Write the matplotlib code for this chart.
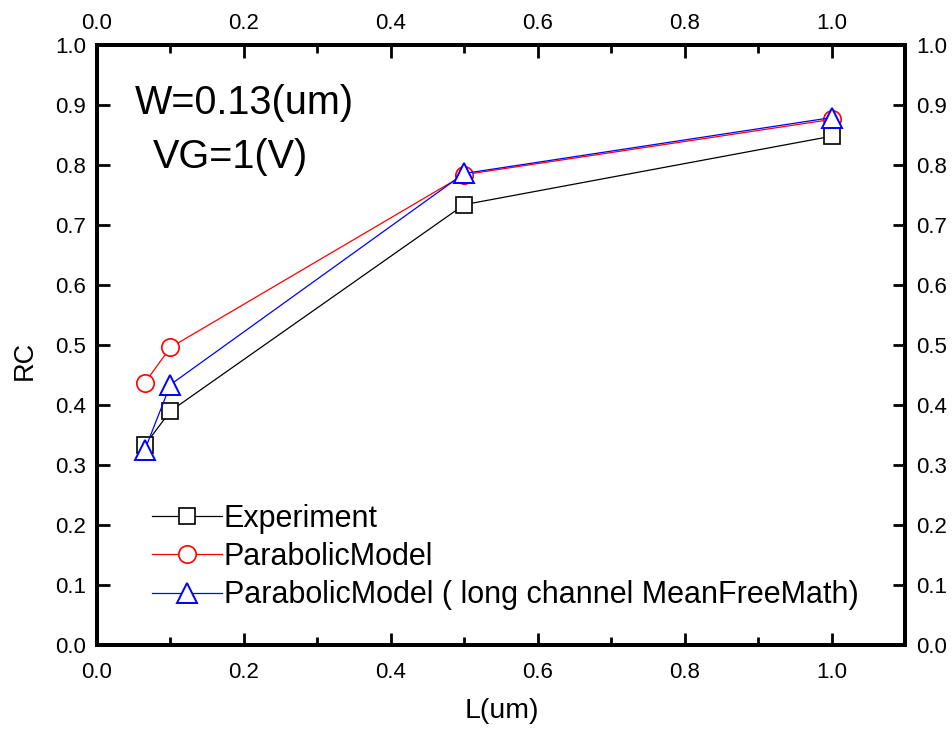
import numpy as np
import matplotlib
matplotlib.use("Agg")
import matplotlib.pyplot as plt

plt.rcParams['font.family'] = ['Liberation Sans', 'DejaVu Sans']

# data
L_um = [0.065, 0.1, 0.5, 1.0]
rc_experiment = [0.333, 0.390, 0.734, 0.848]
rc_parabolic = [0.437, 0.496, 0.784, 0.876]
rc_long_channel = [0.325, 0.434, 0.786, 0.879]

labels = ["Experiment", "ParabolicModel",
          "ParabolicModel ( long channel MeanFreeMath)"]

x_ticks = [0.0, 0.2, 0.4, 0.6, 0.8, 1.0]
y_ticks = [0.0, 0.1, 0.2, 0.3, 0.4, 0.5, 0.6, 0.7, 0.8, 0.9, 1.0]


def main():
    fig = plt.figure(figsize=(9.52, 7.31), dpi=100)
    ax = fig.add_axes([0.1019, 0.1176, 0.8487, 0.8208])

    ax.plot(L_um, rc_experiment, color='black', lw=0.9, marker='s', ms=11.5,
            mfc='white', mec='black', mew=1.2, label=labels[0])
    ax.plot(L_um, rc_parabolic, color='red', lw=0.9, marker='o', ms=12.5,
            mfc='white', mec='red', mew=1.2, label=labels[1])
    ax.plot(L_um, rc_long_channel, color='blue', lw=0.9, marker='^', ms=15,
            mfc='white', mec='blue', mew=1.4, label=labels[2])

    ax.set_xlim(0, 1.1)
    ax.set_ylim(0, 1.0)
    ax.set_xticks(x_ticks)
    ax.set_yticks(y_ticks)
    ax.set_xticks(np.arange(0.1, 1.1, 0.2), minor=True)
    ax.set_xticklabels([f"{v:.1f}" for v in x_ticks])
    ax.set_yticklabels([f"{v:.1f}" for v in y_ticks])

    for s in ax.spines.values():
        s.set_linewidth(2.8)
    ax.tick_params(which='both', direction='in', top=False, right=True,
                   labelright=True, width=2.0)
    ax.tick_params(which='major', length=9, labelsize=16)
    ax.tick_params(which='minor', length=5.5)
    ax.tick_params(axis='x', pad=12)
    ax.tick_params(axis='y', pad=8)

    # top axis with its own label spacing
    top = ax.twiny()
    top.set_xlim(ax.get_xlim())
    top.set_xticks(x_ticks)
    top.set_xticks(np.arange(0.1, 1.1, 0.2), minor=True)
    top.set_xticklabels([f"{v:.1f}" for v in x_ticks])
    top.tick_params(which='both', direction='in', width=2.0, pad=8)
    top.tick_params(which='major', length=9, labelsize=16)
    top.tick_params(which='minor', length=5.5)
    for s in top.spines.values():
        s.set_linewidth(2.8)

    ax.set_xlabel("L(um)", fontsize=20.5)
    ax.xaxis.set_label_coords(0.501, -0.088)
    ax.set_ylabel("RC", fontsize=19.5)
    ax.yaxis.set_label_coords(-0.073, 0.475)

    ax.text(0.047, 0.903, "W=0.13(um)", transform=ax.transAxes,
            fontsize=28.5, va='center', ha='left')
    ax.text(0.069, 0.813, "VG=1(V)", transform=ax.transAxes,
            fontsize=28.5, va='center', ha='left')

    ax.legend(loc='lower left', bbox_to_anchor=(0.068, 0.058), frameon=False,
              fontsize=22, handlelength=2.3, handletextpad=0.05,
              labelspacing=0.27, borderpad=0, borderaxespad=0)

    fig.savefig("out.png", dpi=100)


if __name__ == '__main__':
    main()
